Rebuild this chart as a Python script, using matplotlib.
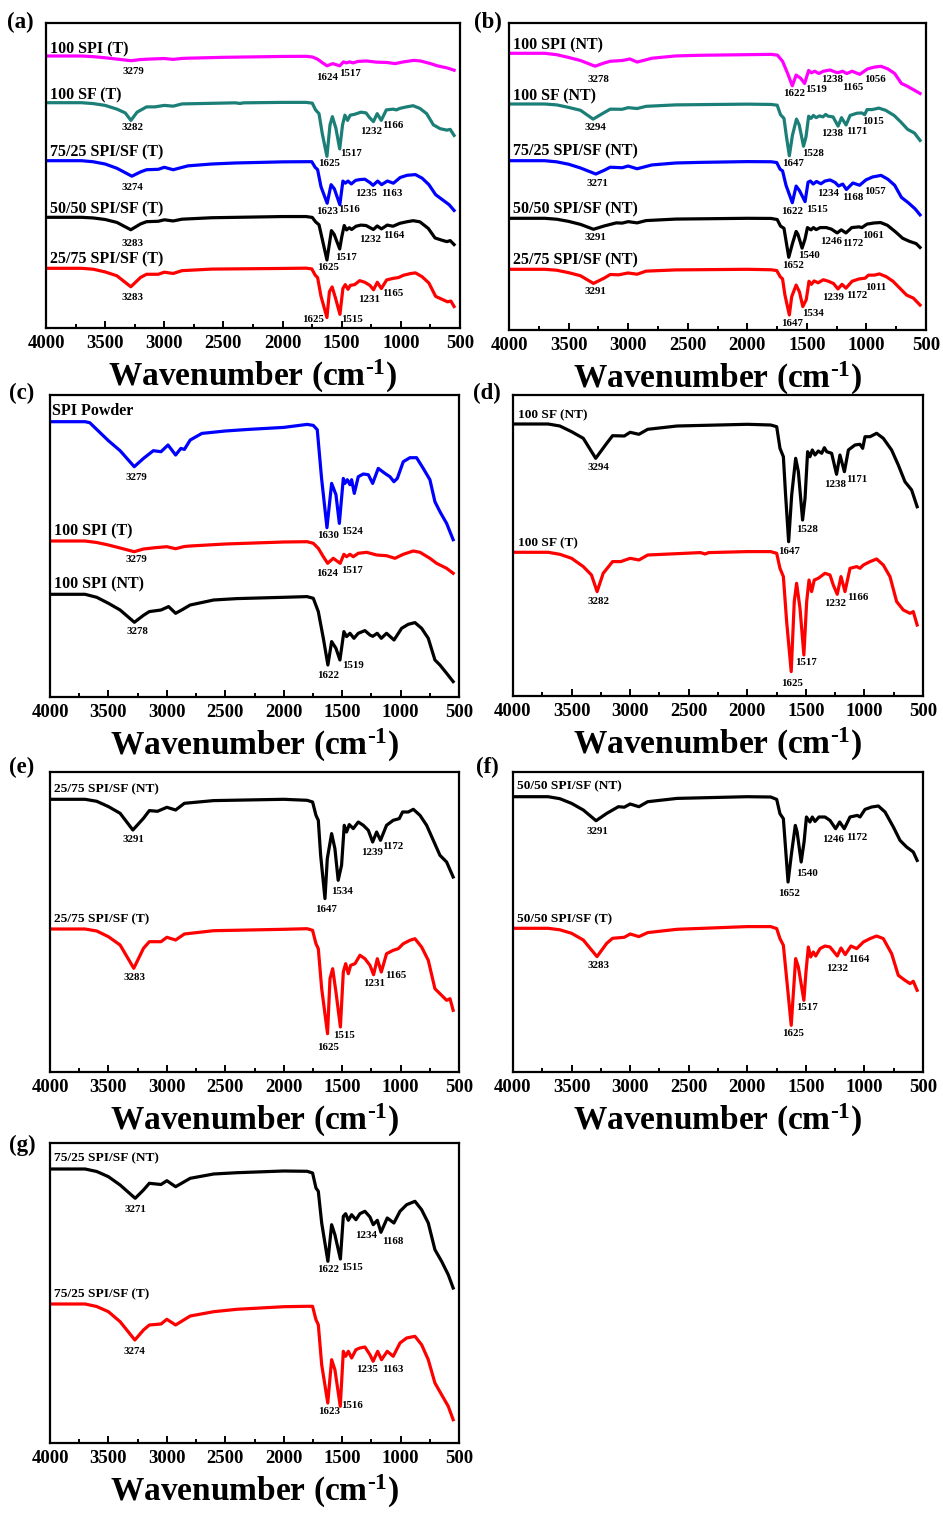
import matplotlib
matplotlib.use("Agg")
import matplotlib.pyplot as plt
from matplotlib.ticker import MultipleLocator

plt.rcParams["font.family"] = "Liberation Serif"
plt.rcParams["font.weight"] = "bold"
plt.rcParams["mathtext.fontset"] = "custom"
plt.rcParams["mathtext.rm"] = "Liberation Serif:bold"
plt.rcParams["mathtext.bf"] = "Liberation Serif:bold"
plt.rcParams["mathtext.it"] = "Liberation Serif:bold:italic"

W, H = 943, 1513

# ---- FTIR spectra: wavenumber (cm-1) and drop below the 4000 cm-1 level (a.u.) ----
wn_spi_powder = [4000, 3850, 3700, 3660, 3500, 3400, 3279, 3200, 3116, 3050, 2990, 2925, 2880, 2850,
                 2800, 2700, 2500, 2300, 2000, 1800, 1747, 1713, 1676, 1630, 1590, 1553, 1524, 1490,
                 1476, 1456, 1433, 1419, 1396, 1362, 1319, 1276, 1239, 1191, 1134, 1091, 1057, 1028,
                 977, 920, 863, 806, 749, 706, 663, 606, 550]
drop_spi_powder = [0, 0, 0, 1, 19, 29, 45, 36.7, 29, 30, 23.3, 33.3, 26.7, 27.7,
                   18.3, 11.7, 9.3, 7.7, 5.7, 2.7, 3.7, 8, 56.7, 106, 61.7, 73, 101.7, 56.7,
                   61.7, 58, 63, 58, 71.7, 55, 52.3, 53, 61.7, 46.7, 51.7, 55, 60, 56.7,
                   40, 36, 36, 46.7, 58, 80, 90, 101.7, 118]

wn_spi_t = [4000, 3700, 3600, 3500, 3400, 3279, 3200, 3100, 3000, 2925, 2850, 2800, 2500, 2000,
            1800, 1747, 1704, 1661, 1624, 1576, 1517, 1485, 1462, 1433, 1405, 1362, 1291, 1205,
            1120, 1048, 977, 891, 834, 749, 692, 606, 550]
drop_spi_t = [0, 0, 1.5, 4, 7, 10.7, 8, 6.7, 5.7, 7.7, 5.5, 5, 3, 1,
              0.7, 2.3, 7.3, 15.7, 22.3, 17.3, 22.3, 13.3, 15.7, 13.3, 15.7, 12.3, 11.3, 14,
              14.7, 17.3, 13.3, 10, 11.3, 17.3, 22.3, 27.3, 32.3]

wn_spi_nt = [4000, 3700, 3600, 3500, 3400, 3278, 3200, 3150, 3050, 2985, 2925, 2870, 2800, 2600,
             2400, 2000, 1800, 1747, 1704, 1661, 1622, 1590, 1553, 1519, 1485, 1462, 1433, 1399,
             1362, 1305, 1262, 1238, 1200, 1165, 1120, 1056, 991, 934, 877, 820, 763, 706, 663,
             606, 550]
drop_spi_nt = [0, 0, 3, 9, 15.7, 28, 21, 17.3, 15.7, 12.3, 19, 15.5, 10.7, 5.7,
               4.3, 3, 2.3, 4, 17.3, 44, 70.7, 47.3, 54, 65.7, 37.3, 42.3, 39, 44,
               39, 36.3, 40.7, 42, 39, 44, 39, 45.7, 34, 30, 28.3, 34, 44, 65.7, 70.7,
               79, 87.3]

wn_sf_nt = [4000, 3700, 3600, 3500, 3400, 3294, 3200, 3150, 3050, 3000, 2925, 2850, 2600, 2000,
            1800, 1749, 1721, 1692, 1673, 1647, 1621, 1587, 1564, 1528, 1507, 1485, 1465, 1445,
            1422, 1394, 1365, 1342, 1322, 1280, 1238, 1209, 1171, 1137, 1081, 1038, 1015, 995,
            952, 896, 839, 768, 711, 654, 597, 550]
drop_sf_nt = [0, 0, 2, 7.7, 14.3, 34.3, 19.3, 11.7, 12, 8.3, 10.3, 5.3, 2, 0.3,
              1, 2.7, 24.3, 32.7, 71, 117.7, 71, 34.3, 47.7, 96, 74.3, 27.7, 32.7, 26,
              31, 27, 29.3, 23.7, 27.7, 29.3, 50.3, 31, 47.7, 26, 21, 20.3, 24.3, 12.7,
              12.7, 9.3, 14.3, 26, 41, 57.7, 66, 82.7]

wn_sf_t = [4000, 3700, 3600, 3500, 3400, 3330, 3282, 3230, 3150, 3080, 3000, 2925, 2850, 2400,
           2360, 2330, 2000, 1800, 1749, 1721, 1692, 1664, 1625, 1599, 1579, 1550, 1517, 1493,
           1473, 1451, 1428, 1394, 1337, 1294, 1266, 1232, 1200, 1166, 1123, 1066, 1038, 1009,
           952, 896, 839, 782, 725, 668, 611, 583, 550]
drop_sf_t = [0, 0, 2, 6, 14.3, 22.7, 39.3, 21, 9.3, 9.3, 6, 7.7, 2.7, 0.3,
             1.7, 0.3, -0.7, -0.7, 1, 16, 24.3, 69.3, 119.3, 49.3, 31, 56, 102.7, 49.3,
             27.7, 39.3, 27.7, 26, 21, 22.7, 32.7, 42, 24.3, 39.3, 16, 14.3, 16, 12.7,
             9.3, 6.7, 12.7, 24.3, 49.3, 57.7, 61, 59.3, 72.7]

wn_2575_nt = [4000, 3700, 3600, 3500, 3400, 3291, 3200, 3150, 3080, 3000, 2925, 2850, 2600, 2000,
              1800, 1753, 1724, 1704, 1684, 1647, 1627, 1590, 1562, 1534, 1505, 1482, 1462, 1439,
              1405, 1362, 1319, 1276, 1239, 1205, 1172, 1120, 1063, 1011, 983, 934, 891, 834,
              777, 720, 663, 606, 550]
drop_2575_nt = [0, 0, 2, 7.3, 14, 30.7, 19, 11.3, 12, 8, 10.7, 4, 1.3, 0,
                1, 2.7, 16, 21, 56, 99.3, 59.3, 34.3, 49.3, 81, 66, 26, 32.7, 25.3,
                29.3, 22.7, 26, 31, 42.7, 32.7, 41, 26, 21, 19.3, 12.7, 12.7, 10, 16,
                26, 41, 56, 62.7, 77.7]

wn_2575_t = [4000, 3700, 3600, 3500, 3400, 3283, 3200, 3150, 3050, 3000, 2925, 2850, 2600, 2000,
             1800, 1753, 1724, 1704, 1675, 1625, 1604, 1581, 1553, 1515, 1490, 1470, 1447, 1427,
             1390, 1348, 1305, 1262, 1231, 1199, 1165, 1120, 1063, 1020, 977, 920, 877, 820,
             763, 706, 649, 606, 577, 550]
drop_2575_t = [0, 0, 2, 7.7, 16, 39.3, 19.3, 12.7, 12.7, 8.3, 11, 5, 1.7, 0.3,
               -0.3, 1.3, 14.7, 19.7, 59.7, 104.7, 49.7, 39.7, 63, 98, 43, 34.7, 44.7, 36.3,
               34.7, 26.3, 29.7, 36.3, 45.7, 29.7, 43, 24.7, 21.3, 19.7, 14.7, 11.3, 9.7, 18,
               31.3, 59.7, 66.3, 71.3, 69.7, 81.3]

wn_5050_nt = [4000, 3700, 3600, 3500, 3400, 3291, 3200, 3100, 3050, 3000, 2925, 2850, 2600, 2000,
              1800, 1749, 1721, 1692, 1673, 1652, 1621, 1590, 1575, 1540, 1515, 1495, 1465, 1445,
              1422, 1388, 1337, 1294, 1246, 1211, 1172, 1123, 1061, 1038, 995, 938, 881, 824,
              753, 696, 640, 583, 550]
drop_5050_nt = [0, 0, 2, 6.7, 13.3, 24, 16.7, 10, 10.5, 7.3, 10, 5, 1.7, 0,
                0.3, 2.7, 17, 22, 52, 85.3, 55.3, 28.7, 35, 65.3, 45, 20.3, 25.3, 20.3,
                24.7, 20.3, 20.3, 23.7, 32, 25.3, 32, 20.3, 18.7, 20.3, 12.7, 10.3, 9.3, 15.3,
                30.3, 43.7, 50.3, 55.3, 63.7]

wn_5050_t = [4000, 3700, 3600, 3500, 3400, 3283, 3200, 3150, 3050, 3000, 2925, 2850, 2600, 2000,
             1800, 1749, 1721, 1692, 1664, 1625, 1587, 1564, 1517, 1499, 1479, 1459, 1436, 1416,
             1379, 1337, 1294, 1232, 1200, 1164, 1115, 1066, 1009, 952, 896, 839, 768, 711,
             654, 611, 583, 550]
drop_5050_t = [0, 0, 1.5, 5, 11.7, 28.3, 15, 10, 9, 5.7, 8.3, 4.3, 1, -1.7,
               -1.7, 0.3, 10.3, 17, 50.3, 97, 30.3, 38.7, 72, 43.7, 18.7, 28.7, 23.7, 27.7,
               20.3, 17.7, 18.7, 27.7, 19.7, 26.3, 17.7, 20.3, 13.7, 10.3, 7.7, 10.3, 25.3, 47,
               52, 55.3, 53, 62]

wn_7525_nt = [4000, 3700, 3600, 3500, 3400, 3271, 3200, 3150, 3050, 3000, 2925, 2870, 2800, 2600,
              2400, 2000, 1800, 1753, 1724, 1704, 1675, 1622, 1590, 1562, 1515, 1490, 1470, 1447,
              1419, 1382, 1348, 1305, 1262, 1234, 1199, 1168, 1114, 1057, 1005, 948, 877, 820,
              763, 706, 649, 592, 550]
drop_7525_nt = [0, 0, 2.5, 7.7, 16, 29.3, 21, 14.3, 15.5, 11.7, 17.7, 14, 9.3, 5,
                3.7, 2, 2.3, 4, 19, 22.3, 54, 92.3, 55.7, 65.7, 90, 47.3, 44.7, 51.3,
                45.7, 50.7, 44.7, 42.3, 48, 55.7, 51.3, 63.3, 49, 54, 42.3, 35.7, 32.3, 40.7,
                54, 80.7, 92.3, 105.7, 119]

wn_7525_t = [4000, 3700, 3600, 3500, 3400, 3274, 3200, 3150, 3050, 3000, 2925, 2870, 2800, 2600,
             2400, 2000, 1800, 1753, 1724, 1704, 1675, 1623, 1590, 1562, 1516, 1490, 1470, 1447,
             1419, 1382, 1348, 1305, 1262, 1235, 1196, 1163, 1114, 1063, 1005, 948, 877, 820,
             763, 706, 649, 592, 550]
drop_7525_t = [0, 0, 2.5, 7.7, 17.7, 36, 26, 21, 20, 15.3, 21, 17, 12, 7.7,
               5.3, 2.7, 2.3, 2.3, 15.7, 20.7, 60.7, 99, 55.7, 65.7, 102.3, 47.3, 52.3, 47.3,
               54, 45.7, 44, 43, 50.7, 57.3, 47.3, 55.7, 47.3, 52.3, 39, 34, 32.3, 40.7,
               55.7, 79, 90.7, 102.3, 115.7]

spectra = {
    "spi_powder": (wn_spi_powder, drop_spi_powder),
    "spi_t": (wn_spi_t, drop_spi_t),
    "spi_nt": (wn_spi_nt, drop_spi_nt),
    "sf_t": (wn_sf_t, drop_sf_t),
    "sf_nt": (wn_sf_nt, drop_sf_nt),
    "7525_t": (wn_7525_t, drop_7525_t),
    "7525_nt": (wn_7525_nt, drop_7525_nt),
    "5050_t": (wn_5050_t, drop_5050_t),
    "5050_nt": (wn_5050_nt, drop_5050_nt),
    "2575_t": (wn_2575_t, drop_2575_t),
    "2575_nt": (wn_2575_nt, drop_2575_nt),
}

MAG, TEAL, BLUE, BLACK, RED = "#FF00FF", "#1B7F78", "#0000FF", "#000000", "#FF0000"

# panel boxes in pixels (left, top, right, bottom); curves: (spectrum, colour, offset, scale)
panels = [
    dict(tag="(a)", tagxy=(7, 22), box=(46, 23, 460, 328), fs=11.5,
         curves=[("spi_t", MAG, 33, 0.44), ("sf_t", TEAL, 79.7, 0.45), ("7525_t", BLUE, 137.7, 0.43),
                 ("5050_t", BLACK, 194.3, 0.44), ("2575_t", RED, 245.3, 0.47)],
         names=[("100 SPI (T)", 50, 49), ("100 SF (T)", 50, 95), ("75/25 SPI/SF (T)", 50, 152),
                ("50/50 SPI/SF (T)", 50, 209), ("25/75 SPI/SF (T)", 50, 259)],
         peaks=[("3279", 133, 71), ("1624", 327, 77), ("1517", 350, 73),
                ("3282", 132, 128), ("1625", 329, 164), ("1517", 351, 154), ("1232", 371, 132), ("1166", 393, 125),
                ("3274", 132, 187), ("1623", 327, 212), ("1516", 349, 209), ("1235", 366, 193), ("1163", 392, 194),
                ("3283", 133, 244), ("1625", 328, 268), ("1517", 346, 257), ("1232", 370, 239), ("1164", 394, 236),
                ("3283", 132, 297), ("1625", 313, 319), ("1515", 352, 319), ("1231", 369, 299), ("1165", 393, 294)]),
    dict(tag="(b)", tagxy=(474, 22), box=(509, 23, 926, 330), fs=11.5,
         curves=[("spi_nt", MAG, 30.3, 0.46), ("sf_nt", TEAL, 81, 0.44), ("7525_nt", BLUE, 137.7, 0.455),
                 ("5050_nt", BLACK, 195.3, 0.457), ("2575_nt", RED, 246.3, 0.46)],
         names=[("100 SPI (NT)", 513, 45), ("100 SF (NT)", 513, 96), ("75/25 SPI/SF (NT)", 513, 151),
                ("50/50 SPI/SF (NT)", 513, 209), ("25/75 SPI/SF (NT)", 513, 260)],
         peaks=[("3278", 598, 79), ("1622", 794, 94), ("1519", 816, 90), ("1238", 832, 80), ("1165", 853, 87), ("1056", 875, 79),
                ("3294", 595, 127), ("1647", 793, 163), ("1528", 813, 154), ("1238", 832, 133), ("1171", 857, 131), ("1015", 873, 121),
                ("3271", 597, 183), ("1622", 792, 212), ("1515", 817, 209), ("1234", 828, 194), ("1168", 853, 198), ("1057", 875, 191),
                ("3291", 595, 238), ("1652", 793, 266), ("1540", 809, 255), ("1246", 831, 242), ("1172", 853, 243), ("1061", 873, 235),
                ("3291", 595, 292), ("1647", 792, 323), ("1534", 813, 314), ("1239", 833, 297), ("1172", 857, 296), ("1011", 876, 287)]),
    dict(tag="(c)", tagxy=(9, 393), box=(50, 395, 459, 697), fs=11.5,
         curves=[("spi_powder", BLUE, 26.7, 1.0), ("spi_t", RED, 146, 1.0), ("spi_nt", BLACK, 199.3, 1.0)],
         names=[("SPI Powder", 52, 411), ("100 SPI (T)", 54, 531), ("100 SPI (NT)", 54, 584)],
         peaks=[("3279", 136, 477), ("1630", 328, 536), ("1524", 352, 531),
                ("3279", 136, 560), ("1624", 327, 573), ("1517", 352, 571),
                ("3278", 137, 632), ("1622", 328, 676), ("1519", 353, 665)]),
    dict(tag="(d)", tagxy=(473, 393), box=(513, 395, 923, 696), fs=9.6,
         curves=[("sf_nt", BLACK, 29, 1.0), ("sf_t", RED, 157.3, 1.0)],
         names=[("100 SF (NT)", 518, 415), ("100 SF (T)", 518, 543)],
         peaks=[("3294", 598, 467), ("1647", 789, 552), ("1528", 807, 529), ("1238", 835, 484), ("1171", 857, 479),
                ("3282", 599, 602), ("1625", 792, 683), ("1517", 806, 663), ("1232", 835, 603), ("1166", 858, 597)]),
    dict(tag="(e)", tagxy=(9, 767), box=(50, 772, 459, 1072), fs=9.6,
         curves=[("2575_nt", BLACK, 27.3, 1.0), ("2575_t", RED, 157, 1.0)],
         names=[("25/75 SPI/SF (NT)", 54, 789), ("25/75 SPI/SF (T)", 54, 919)],
         peaks=[("3291", 133, 839), ("1647", 326, 910), ("1534", 342, 892), ("1239", 372, 853), ("1172", 393, 846),
                ("3283", 134, 978), ("1625", 328, 1047), ("1515", 344, 1036), ("1231", 374, 983), ("1165", 396, 975)]),
    dict(tag="(f)", tagxy=(476, 767), box=(513, 772, 923, 1072), fs=9.6,
         curves=[("5050_nt", BLACK, 24.7, 1.0), ("5050_t", RED, 156.3, 1.0)],
         names=[("50/50 SPI/SF (NT)", 517, 786), ("50/50 SPI/SF (T)", 517, 919)],
         peaks=[("3291", 597, 831), ("1652", 789, 894), ("1540", 807, 873), ("1246", 833, 839), ("1172", 857, 837),
                ("3283", 598, 965), ("1625", 793, 1033), ("1517", 807, 1008), ("1232", 837, 968), ("1164", 859, 960)]),
    dict(tag="(g)", tagxy=(9, 1145), box=(50, 1143, 459, 1443), fs=9.6,
         curves=[("7525_nt", BLACK, 26, 1.0), ("7525_t", RED, 161, 1.0)],
         names=[("75/25 SPI/SF (NT)", 54, 1158), ("75/25 SPI/SF (T)", 54, 1294)],
         peaks=[("3271", 135, 1209), ("1622", 328, 1270), ("1515", 352, 1267), ("1234", 366, 1236), ("1168", 393, 1242),
                ("3274", 134, 1351), ("1623", 329, 1412), ("1516", 352, 1406), ("1235", 367, 1369), ("1163", 393, 1369)]),
]

fig = plt.figure(figsize=(W / 100, H / 100), dpi=100)


def fx(x):
    return x / W


def fy(y):
    return 1 - y / H


for p in panels:
    left, top, right, bottom = p["box"]
    height = bottom - top
    ax = fig.add_axes([fx(left), fy(bottom), (right - left) / W, height / H])
    for key, colour, offset, scale in p["curves"]:
        wn, drop = spectra[key]
        ax.plot(wn, [-offset - d * scale for d in drop], color=colour, lw=2.3,
                solid_joinstyle="round")
    ax.set_xlim(4000, 500)
    ax.set_ylim(-height, 0)
    ax.set_yticks([])
    ax.set_xticks(range(4000, 499, -500))
    ax.xaxis.set_minor_locator(MultipleLocator(250))
    ax.tick_params(axis="x", which="both", direction="in", width=1.4, labelsize=13.5, pad=5)
    ax.tick_params(axis="x", which="major", length=5)
    ax.tick_params(axis="x", which="minor", length=3)
    for lab in ax.get_xticklabels():
        lab.set_fontweight("bold")
    for sp in ax.spines.values():
        sp.set_linewidth(1.6)
    ax.set_xlabel("Wavenumber (cm$^{\u20101}$)", fontsize=24, fontweight="bold", labelpad=4)

    fig.text(fx(p["tagxy"][0]), fy(p["tagxy"][1]), p["tag"], fontsize=16.5,
             fontweight="bold", ha="left", va="center")
    for s, x, y in p["names"]:
        fig.text(fx(x), fy(y), s, fontsize=p["fs"], fontweight="bold", ha="left", va="center")
    for s, x, y in p["peaks"]:
        fig.text(fx(x), fy(y), s, fontsize=7.8, fontweight="bold", ha="center", va="center")

fig.savefig("out.png", dpi=100)
